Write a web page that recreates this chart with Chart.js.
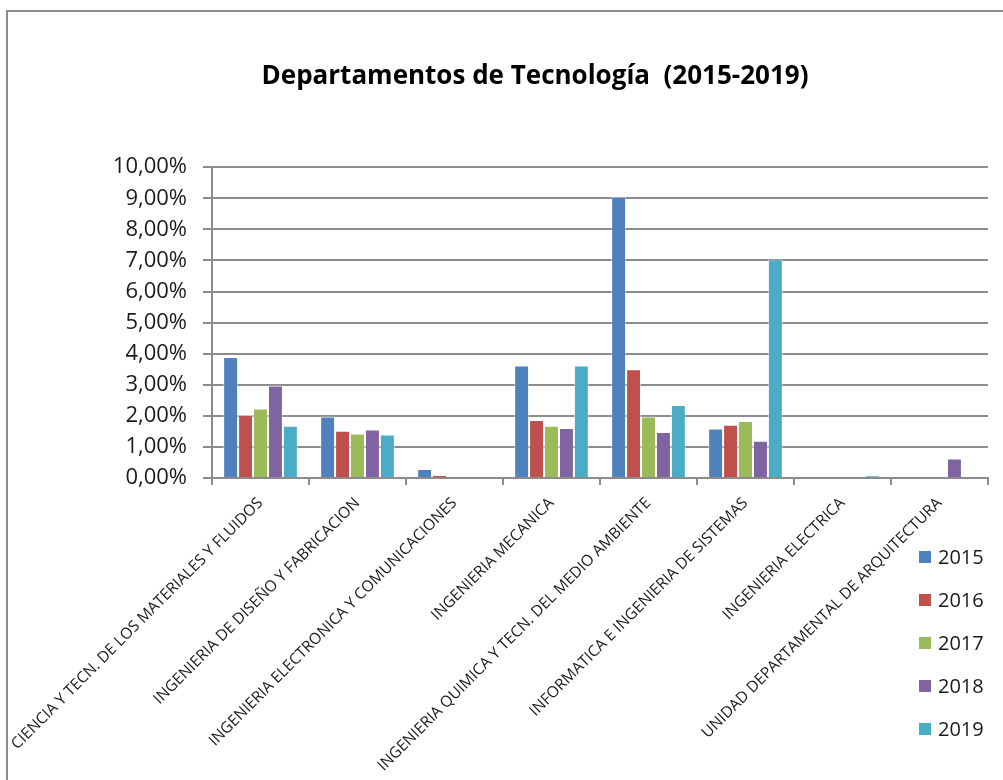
<!DOCTYPE html>
<html>
<head>
<meta charset="utf-8">
<script src="https://cdn.jsdelivr.net/npm/chart.js@4/dist/chart.umd.min.js"></script>
<style>
  html, body { margin: 0; padding: 0; background: #fff; overflow: hidden; }
  #wrap { position: relative; width: 1003px; height: 780px; }
  #frame { position: absolute; left: 6px; top: 10px; width: 1200px; height: 1000px;
           border-top: 2px solid #8c8c8c; border-left: 2px solid #8c8c8c; }
  #grafico { position: absolute; left: 0; top: 0; }
  #leyenda { position: absolute; left: 919px; top: 540px; font-family: "Open Sans", sans-serif;
             font-size: 20px; color: #1a1a1a; }
  #leyenda div { height: 43px; line-height: 34px; white-space: nowrap; }
  #leyenda span.caja { display: inline-block; width: 12px; height: 12px; margin-right: 7px;
                       vertical-align: middle; position: relative; top: -2px; }
</style>
</head>
<body>
<div id="wrap">
  <div id="frame"></div>
  <canvas id="grafico" width="1003" height="780"></canvas>
  <div id="leyenda"></div>
</div>
<script>
// departamentos (eje x)
const departamentos = [
    'CIENCIA Y TECN. DE LOS MATERIALES Y FLUIDOS',
    'INGENIERIA DE DISEÑO Y FABRICACION',
    'INGENIERIA ELECTRONICA Y COMUNICACIONES',
    'INGENIERIA MECANICA',
    'INGENIERIA QUIMICA Y TECN. DEL MEDIO AMBIENTE',
    'INFORMATICA E INGENIERIA DE SISTEMAS',
    'INGENIERIA ELECTRICA',
    'UNIDAD DEPARTAMENTAL DE ARQUITECTURA'
];

// porcentajes por año
const datos_2015 = [3.89, 1.98, 0.29, 3.62, 9.05, 1.59, 0, 0];
const datos_2016 = [2.03, 1.52, 0.10, 1.87, 3.50, 1.71, 0, 0];
const datos_2017 = [2.24, 1.43, 0, 1.68, 1.98, 1.83, 0, 0];
const datos_2018 = [2.98, 1.56, 0, 1.61, 1.48, 1.20, 0, 0.63];
const datos_2019 = [1.68, 1.40, 0, 3.62, 2.35, 7.03, 0.08, 0];

const years = ['2015', '2016', '2017', '2018', '2019'];
const colores = ['#4F81BD', '#C0504D', '#9BBB59', '#8064A2', '#4BACC6'];
const series = [datos_2015, datos_2016, datos_2017, datos_2018, datos_2019];

const gris = '#8c8c8c';

const ctx = document.getElementById('grafico').getContext('2d');
const grafico = new Chart(ctx, {
    type: 'bar',
    data: {
        labels: departamentos,
        datasets: series.map(function(d, i){
            return {
                label: years[i],
                data: d,
                backgroundColor: colores[i],
                borderColor: 'rgba(255,255,255,0.5)',
                borderWidth: 1,
                categoryPercentage: 0.77,
                barPercentage: 1.0
            };
        })
    },
    options: {
        responsive: false,
        animation: false,
        // el padding izquierdo desplaza el título hacia la derecha, como en el original
        layout: { padding: { left: 82, right: 15, top: 0, bottom: 0 } },
        plugins: {
            legend: { display: false },
            tooltip: { enabled: false },
            title: {
                display: true,
                text: 'Departamentos de Tecnología  (2015-2019)',
                color: '#000',
                font: { family: 'Open Sans', size: 26, weight: 'bold', lineHeight: 1.2 },
                padding: { top: 61, bottom: 75 }
            }
        },
        scales: {
            x: {
                grid: { offset: true, drawOnChartArea: false, drawTicks: true, tickLength: 7,
                        color: gris, lineWidth: 2 },
                border: { color: gris, width: 2 },
                ticks: {
                    autoSkip: false, minRotation: 45, maxRotation: 45,
                    color: '#1a1a1a', padding: 9,
                    font: { family: 'Open Sans', size: 15.5 }
                },
                afterFit: function(scale){
                    scale.height = 302;
                    scale.paddingLeft = 0;
                    scale.paddingRight = 0;
                }
            },
            y: {
                min: 0, max: 10,
                grid: { color: gris, lineWidth: 2, tickLength: 9 },
                border: { color: gris, width: 2 },
                ticks: {
                    stepSize: 1, padding: 16, color: '#1a1a1a',
                    font: { family: 'Open Sans', size: 22 },
                    callback: function(v){ return v.toFixed(2).replace('.', ',') + '%'; }
                },
                afterFit: function(scale){ scale.width = 130; }
            }
        }
    }
});

// leyenda a la derecha, debajo del área del gráfico
grafico.data.datasets.forEach(function(ds){
    const fila = document.createElement('div');
    const caja = document.createElement('span');
    caja.className = 'caja';
    caja.style.background = ds.backgroundColor;
    fila.appendChild(caja);
    fila.appendChild(document.createTextNode(ds.label));
    document.getElementById('leyenda').appendChild(fila);
});
</script>
</body>
</html>
